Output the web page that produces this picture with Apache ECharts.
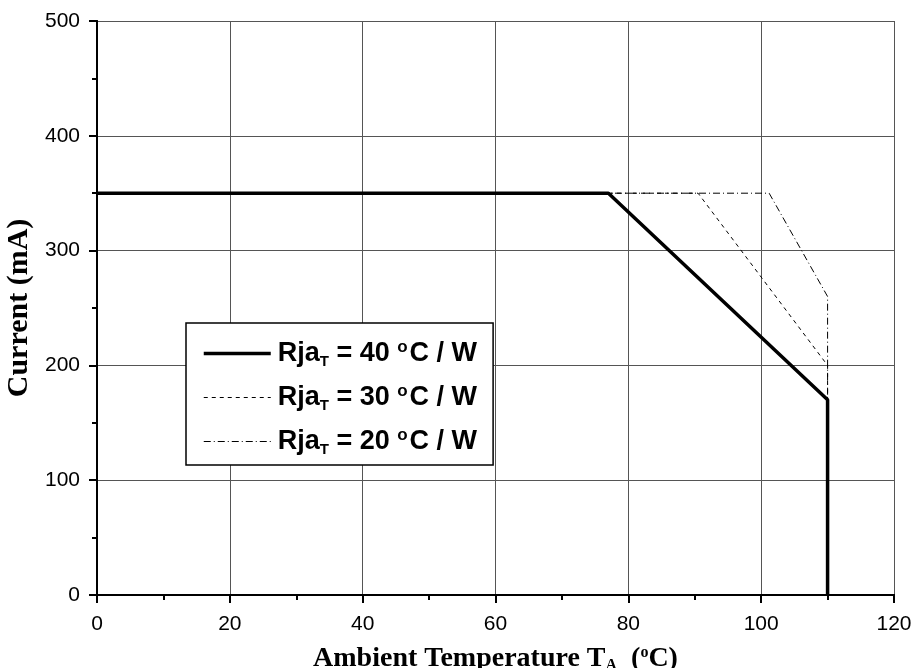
<!DOCTYPE html>
<html><head><meta charset="utf-8">
<script src="https://cdn.jsdelivr.net/npm/echarts@6/dist/echarts.min.js"></script>
<style>html,body{margin:0;padding:0;background:#fff}#c{width:918px;height:668px}</style>
</head><body><div id="c"></div>
<script>
const xTicks = [0, 20, 40, 60, 80, 100, 120];
const yTicks = [0, 100, 200, 300, 400, 500];
const seriesNames = ['Rja40', 'Rja30', 'Rja20'];
const legendLabels = ['40', '30', '20'];
const rja40 = [[0, 350], [77, 350], [110, 170], [110, 0]];
const rja30 = [[0, 350], [90.5, 350], [110, 200], [110, 0]];
const rja20 = [[0, 350], [101.2, 350], [110, 260], [110, 0]];

const chart = echarts.init(document.getElementById('c'), null, {renderer: 'canvas'});
const axisLine = {show: true, lineStyle: {color: '#000', width: 2}};
const grid = {left: 97, right: 24, top: 21, bottom: 73, containLabel: false, outerBoundsMode: 'none'};
const serifTitle = {fontFamily: 'Liberation Serif', fontWeight: 'bold', fontSize: 28, color: '#000'};
const labelRich = {
  b: {fontFamily: 'Liberation Sans', fontWeight: 'bold', fontSize: 27, color: '#000', lineHeight: 30},
  sub: {fontFamily: 'Liberation Sans', fontWeight: 'bold', fontSize: 15, color: '#000', lineHeight: 30, padding: [16, 0, 0, 0]},
  sup: {fontFamily: 'Liberation Sans', fontWeight: 'bold', fontSize: 17, color: '#000', lineHeight: 30, padding: [0, 2, 13, 0]}
};
const legendWidths = [3.5, 1, 1];
const legendDash = ['solid', [4, 4], [7, 3, 1, 3]];
const gridColor = '#555';
chart.setOption({
  animation: false,
  backgroundColor: '#fff',
  grid: grid,
  xAxis: [{
    type: 'value', min: xTicks[0], max: xTicks[xTicks.length - 1], interval: 20,
    axisLine: axisLine,
    axisTick: {show: true, length: 8, lineStyle: {color: '#000', width: 2}},
    minorTick: {show: true, splitNumber: 2, length: 5, lineStyle: {color: '#000', width: 2}},
    splitLine: {show: true, lineStyle: {color: gridColor, width: 1}},
    axisLabel: {fontFamily: 'Liberation Sans', fontSize: 21, color: '#000', margin: 19},
    name: '{t|Ambient Temperature T}{s|A}{t|  (}{p|o}{t|C)}',
    nameLocation: 'middle', nameGap: 49,
    nameTextStyle: {rich: {
      t: serifTitle,
      s: {fontFamily: 'Liberation Serif', fontWeight: 'bold', fontSize: 16, color: '#000', padding: [14, 0, 0, 0]},
      p: {fontFamily: 'Liberation Serif', fontWeight: 'bold', fontSize: 16, color: '#000', padding: [0, 0, 12, 0]}
    }}
  }, {
    type: 'value', position: 'top', min: 0, max: 120, interval: 20,
    axisLine: axisLine,
    axisTick: {show: true, inside: true, length: 4, lineStyle: {color: '#000', width: 2}},
    minorTick: {show: true, splitNumber: 2, length: 4, lineStyle: {color: '#000', width: 2}},
    splitLine: {show: false}, axisLabel: {show: false}
  }],
  yAxis: [{
    type: 'value', min: yTicks[0], max: yTicks[yTicks.length - 1], interval: 100,
    axisLine: axisLine,
    axisTick: {show: true, length: 8, lineStyle: {color: '#000', width: 2}},
    minorTick: {show: true, splitNumber: 2, length: 5, lineStyle: {color: '#000', width: 2}},
    splitLine: {show: true, lineStyle: {color: gridColor, width: 1}},
    axisLabel: {fontFamily: 'Liberation Sans', fontSize: 21, color: '#000', margin: 17},
    name: 'Current (mA)', nameLocation: 'middle', nameGap: 58, nameRotate: 90,
    nameTextStyle: {fontFamily: 'Liberation Serif', fontWeight: 'bold', fontSize: 30, color: '#000'}
  }, {
    type: 'value', position: 'right', min: 0, max: 500, interval: 100,
    axisLine: axisLine,
    axisTick: {show: true, inside: true, length: 4, lineStyle: {color: '#000', width: 2}},
    minorTick: {show: true, splitNumber: 2, length: 4, lineStyle: {color: '#000', width: 2}},
    splitLine: {show: false}, axisLabel: {show: false}
  }],
  legend: {
    orient: 'vertical', left: 186, top: 323,
    data: seriesNames.map((n, i) => ({name: n, lineStyle: {width: legendWidths[i], type: legendDash[i], color: '#000'}})),
    borderColor: '#000', borderWidth: 1.5, backgroundColor: '#fff',
    padding: [15, 16, 8, 16],
    itemWidth: 67, itemHeight: 14, itemGap: 13,
    itemStyle: {opacity: 0},
    formatter: function (name) {
      const i = seriesNames.indexOf(name);
      return '{b|Rja}{sub|T}{b| = ' + legendLabels[i] + ' }{sup|o}{b|C / W}';
    },
    textStyle: {rich: labelRich, padding: [0, 0, 0, 2]}
  },
  series: [
    {name: seriesNames[2], type: 'line', data: rja20, showSymbol: false, symbol: 'none', z: 2,
     lineStyle: {color: '#000', width: 1, type: [7, 3, 1, 3]}, itemStyle: {color: '#000'}},
    {name: seriesNames[1], type: 'line', data: rja30, showSymbol: false, symbol: 'none', z: 3,
     lineStyle: {color: '#000', width: 1, type: [4, 4]}, itemStyle: {color: '#000'}},
    {name: seriesNames[0], type: 'line', data: rja40, showSymbol: false, symbol: 'none', z: 4,
     lineStyle: {color: '#000', width: 3.5}, itemStyle: {color: '#000'}}
  ]
});
</script></body></html>
